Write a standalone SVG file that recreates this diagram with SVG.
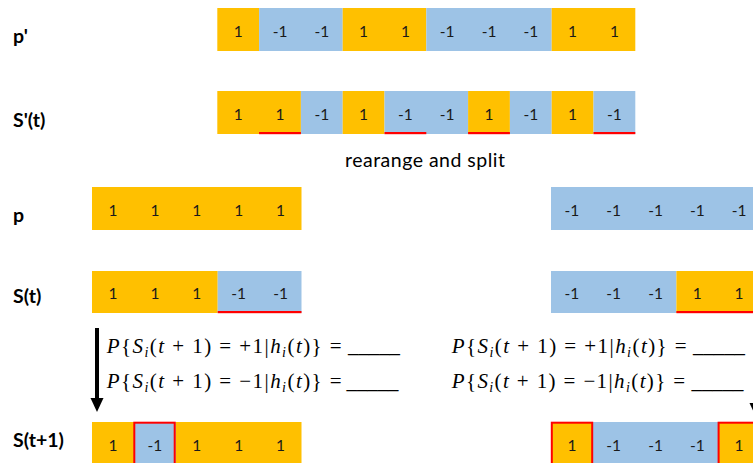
<svg xmlns="http://www.w3.org/2000/svg" width="753" height="463" viewBox="0 0 753 463">
<style>
.o{fill:#FFC000}
.b{fill:#9DC3E6}
.t{font-family:Lato,"Liberation Sans",sans-serif;font-size:15.5px;fill:#1a1a1a;text-anchor:middle}
.lbl{font-family:Lato,"Liberation Sans",sans-serif;font-size:19.5px;font-weight:bold;fill:#000}
.u{fill:#FF0000}
.rb{fill:none;stroke:#FF0000;stroke-width:2}
.f{font-family:"Liberation Serif","DejaVu Serif",serif;font-size:21px;fill:#000}
.i{font-style:italic}
.sub{font-style:italic;font-size:14px}
.cap{font-family:Lato,"Liberation Sans",sans-serif;font-size:19.5px;fill:#000}
</style>
<rect width="753" height="463" fill="#fff"/>

<g id="labels">
<text class="lbl" x="13" y="43">p'</text>
<text class="lbl" x="13" y="126.5">S'(t)</text>
<text class="lbl" x="13" y="221.5">p</text>
<text class="lbl" x="13" y="303">S(t)</text>
<text class="lbl" x="13" y="447">S(t+1)</text>
</g>

<g id="row-p-prime">
<rect class="o" x="217.3" y="8" width="41.8" height="43"/>
<rect class="b" x="259.1" y="8" width="83.6" height="43"/>
<rect class="o" x="342.7" y="8" width="83.6" height="43"/>
<rect class="b" x="426.3" y="8" width="125.4" height="43"/>
<rect class="o" x="551.7" y="8" width="83.6" height="43"/>
<text class="t" x="238.2" y="36.5">1</text>
<text class="t" x="280" y="36.5">-1</text>
<text class="t" x="321.8" y="36.5">-1</text>
<text class="t" x="363.6" y="36.5">1</text>
<text class="t" x="405.4" y="36.5">1</text>
<text class="t" x="447.2" y="36.5">-1</text>
<text class="t" x="489" y="36.5">-1</text>
<text class="t" x="530.8" y="36.5">-1</text>
<text class="t" x="572.6" y="36.5">1</text>
<text class="t" x="614.4" y="36.5">1</text>
</g>

<g id="row-s-prime">
<rect class="o" x="217.3" y="91" width="83.6" height="43"/>
<rect class="b" x="300.9" y="91" width="41.8" height="43"/>
<rect class="o" x="342.7" y="91" width="41.8" height="43"/>
<rect class="b" x="384.5" y="91" width="83.6" height="43"/>
<rect class="o" x="468.1" y="91" width="41.8" height="43"/>
<rect class="b" x="509.9" y="91" width="41.8" height="43"/>
<rect class="o" x="551.7" y="91" width="41.8" height="43"/>
<rect class="b" x="593.5" y="91" width="41.8" height="43"/>
<rect class="u" x="259.1" y="132" width="41.8" height="2.2"/>
<rect class="u" x="384.5" y="132" width="41.8" height="2.2"/>
<rect class="u" x="468.1" y="132" width="41.8" height="2.2"/>
<rect class="u" x="593.5" y="132" width="41.8" height="2.2"/>
<text class="t" x="238.2" y="119.5">1</text>
<text class="t" x="280" y="119.5">1</text>
<text class="t" x="321.8" y="119.5">-1</text>
<text class="t" x="363.6" y="119.5">1</text>
<text class="t" x="405.4" y="119.5">-1</text>
<text class="t" x="447.2" y="119.5">-1</text>
<text class="t" x="489" y="119.5">1</text>
<text class="t" x="530.8" y="119.5">-1</text>
<text class="t" x="572.6" y="119.5">1</text>
<text class="t" x="614.4" y="119.5">-1</text>
</g>

<g id="caption">
<text class="cap" x="345" y="166.5" textLength="160" lengthAdjust="spacing">rearange and split</text>
</g>

<g id="row-p-left">
<rect class="o" x="92" y="187" width="209.5" height="43"/>
<text class="t" x="113" y="215.5">1</text>
<text class="t" x="154.9" y="215.5">1</text>
<text class="t" x="196.8" y="215.5">1</text>
<text class="t" x="238.7" y="215.5">1</text>
<text class="t" x="280.6" y="215.5">1</text>
</g>

<g id="row-p-right">
<rect class="b" x="551" y="187" width="209" height="43"/>
<text class="t" x="571.9" y="215.5">-1</text>
<text class="t" x="613.7" y="215.5">-1</text>
<text class="t" x="655.5" y="215.5">-1</text>
<text class="t" x="697.3" y="215.5">-1</text>
<text class="t" x="739.1" y="215.5">-1</text>
</g>

<g id="row-s-left">
<rect class="o" x="92" y="271" width="125.7" height="42"/>
<rect class="b" x="217.7" y="271" width="83.8" height="42"/>
<rect class="u" x="217.7" y="311" width="83.8" height="2.2"/>
<text class="t" x="113" y="299">1</text>
<text class="t" x="154.9" y="299">1</text>
<text class="t" x="196.8" y="299">1</text>
<text class="t" x="238.7" y="299">-1</text>
<text class="t" x="280.6" y="299">-1</text>
</g>

<g id="row-s-right">
<rect class="b" x="551" y="271" width="125.4" height="42"/>
<rect class="o" x="676.4" y="271" width="83.6" height="42"/>
<rect class="u" x="676.4" y="311" width="83.6" height="2.2"/>
<text class="t" x="571.9" y="299">-1</text>
<text class="t" x="613.7" y="299">-1</text>
<text class="t" x="655.5" y="299">-1</text>
<text class="t" x="697.3" y="299">1</text>
<text class="t" x="739.1" y="299">1</text>
</g>

<g id="formula-left">
<text class="f" x="106.7" y="353" textLength="235" lengthAdjust="spacing"><tspan class="i">P</tspan>{<tspan class="i">S</tspan><tspan class="sub" dy="4">i</tspan><tspan dy="-4">(</tspan><tspan class="i">t</tspan> + 1) = +1|<tspan class="i">h</tspan><tspan class="sub" dy="4">i</tspan><tspan dy="-4">(</tspan><tspan class="i">t</tspan>)} =</text>
<text class="f" x="348" y="351.5" textLength="52" lengthAdjust="spacingAndGlyphs">_____</text>
<text class="f" x="106.7" y="388" textLength="235" lengthAdjust="spacing"><tspan class="i">P</tspan>{<tspan class="i">S</tspan><tspan class="sub" dy="4">i</tspan><tspan dy="-4">(</tspan><tspan class="i">t</tspan> + 1) = −1|<tspan class="i">h</tspan><tspan class="sub" dy="4">i</tspan><tspan dy="-4">(</tspan><tspan class="i">t</tspan>)} =</text>
<text class="f" x="346.5" y="388" textLength="52" lengthAdjust="spacingAndGlyphs">_____</text>
</g>

<g id="formula-right">
<text class="f" x="451.7" y="353" textLength="235" lengthAdjust="spacing"><tspan class="i">P</tspan>{<tspan class="i">S</tspan><tspan class="sub" dy="4">i</tspan><tspan dy="-4">(</tspan><tspan class="i">t</tspan> + 1) = +1|<tspan class="i">h</tspan><tspan class="sub" dy="4">i</tspan><tspan dy="-4">(</tspan><tspan class="i">t</tspan>)} =</text>
<text class="f" x="693" y="351.5" textLength="52" lengthAdjust="spacingAndGlyphs">_____</text>
<text class="f" x="451.7" y="388" textLength="233.5" lengthAdjust="spacing"><tspan class="i">P</tspan>{<tspan class="i">S</tspan><tspan class="sub" dy="4">i</tspan><tspan dy="-4">(</tspan><tspan class="i">t</tspan> + 1) = −1|<tspan class="i">h</tspan><tspan class="sub" dy="4">i</tspan><tspan dy="-4">(</tspan><tspan class="i">t</tspan>)} =</text>
<text class="f" x="691.5" y="388" textLength="52" lengthAdjust="spacingAndGlyphs">_____</text>
</g>

<g id="row-s1-left">
<rect class="o" x="92" y="422" width="209.5" height="43"/>
<rect class="b" x="133.9" y="422" width="41.9" height="43"/>
<rect class="rb" x="134.3" y="422.7" width="40.4" height="45"/>
<text class="t" x="113" y="450.5">1</text>
<text class="t" x="154.9" y="450.5">-1</text>
<text class="t" x="196.8" y="450.5">1</text>
<text class="t" x="238.7" y="450.5">1</text>
<text class="t" x="280.6" y="450.5">1</text>
</g>

<g id="row-s1-right">
<rect class="o" x="551" y="422" width="41.8" height="43"/>
<rect class="b" x="592.8" y="422" width="125.4" height="43"/>
<rect class="o" x="718.2" y="422" width="41.8" height="43"/>
<rect class="rb" x="551.8" y="422.7" width="40.4" height="45"/>
<rect class="rb" x="718.6" y="422.7" width="40.4" height="45"/>
<text class="t" x="571.9" y="450.5">1</text>
<text class="t" x="613.7" y="450.5">-1</text>
<text class="t" x="655.5" y="450.5">-1</text>
<text class="t" x="697.3" y="450.5">-1</text>
<text class="t" x="739.1" y="450.5">1</text>
</g>

<g id="connectors">
<line x1="97" y1="328" x2="97" y2="399" stroke="#000" stroke-width="4"/>
<polygon points="90.5,398 103.5,398 97,412" fill="#000"/>
<line x1="756" y1="328" x2="756" y2="404" stroke="#000" stroke-width="4"/>
<polygon points="749.5,403 762.5,403 756,417" fill="#000"/>
</g>
</svg>
